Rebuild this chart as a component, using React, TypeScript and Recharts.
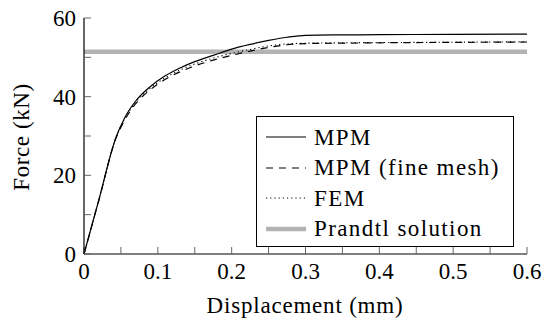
import { Line, LineChart, ReferenceLine, XAxis, YAxis } from 'recharts';

// load–displacement curves (mm, kN)
const displacement = [0, 0.02, 0.043, 0.055, 0.07, 0.09, 0.11, 0.13, 0.15, 0.175, 0.2, 0.225, 0.25, 0.275, 0.3, 0.35, 0.4, 0.5, 0.6];
const mpm = [0, 13.7, 29.5, 34.6, 38.9, 42.6, 45.3, 47.3, 48.9, 50.5, 52.1, 53.3, 54.3, 55.1, 55.6, 55.7, 55.75, 55.85, 55.9];
const mpmFine = [0, 13.6, 29.3, 34.0, 38.2, 41.8, 44.4, 46.3, 47.8, 49.3, 50.5, 51.6, 52.5, 53.2, 53.5, 53.6, 53.7, 53.8, 53.9];
const fem = [0, 13.6, 29.4, 34.3, 38.6, 42.2, 44.8, 46.8, 48.3, 49.8, 51.0, 52.0, 52.9, 53.4, 53.6, 53.7, 53.75, 53.85, 53.95];
const prandtlForce = 51.4;

const xTicks = [0, 0.05, 0.1, 0.15, 0.2, 0.25, 0.3, 0.35, 0.4, 0.45, 0.5, 0.55, 0.6];
const yTicks = [0, 10, 20, 30, 40, 50, 60];
const xLabels = [0, 0.1, 0.2, 0.3, 0.4, 0.5, 0.6];
const yLabels = [0, 20, 40, 60];

const data = displacement.map((d, i) => ({
  d,
  mpm: mpm[i],
  fine: mpmFine[i],
  fem: fem[i],
}));

const FONT = '"Liberation Serif", "Noto Serif", "FreeSerif", "Times New Roman", Times, "DejaVu Serif", serif';
const TICK_LEN = 7; // ticks point into the plot
const tickLineStyle = { stroke: '#666', strokeWidth: 1 };
const axisLineStyle = { stroke: '#000', strokeWidth: 1.2 };
const GRAY = '#b3b3b3';

const legendItems = [
  { name: 'MPM', stroke: '#000', width: 1.2, dash: undefined },
  { name: 'MPM (fine mesh)', stroke: '#000', width: 1.2, dash: '7 6' },
  { name: 'FEM', stroke: '#000', width: 1.1, dash: '1.2 3' },
  { name: 'Prandtl solution', stroke: GRAY, width: 4.5, dash: undefined },
];

const isMajor = (v: number, labels: number[]) => labels.some((l) => Math.abs(l - v) < 1e-9);

const fmt = (v: number) => (v === 0 ? '0' : String(Number(v.toFixed(2))));

// tick coords arrive offset by the (negative) tick size, so shift labels back out
const BottomTick = (props: any) => {
  const { x, y, payload } = props;
  if (!isMajor(payload.value, xLabels)) return <g />;
  return (
    <text x={x} y={y + TICK_LEN + 25} textAnchor="middle" style={{ fontFamily: FONT }} fontSize={23} fill="#000">
      {fmt(payload.value)}
    </text>
  );
};

const LeftTick = (props: any) => {
  const { x, y, payload } = props;
  if (!isMajor(payload.value, yLabels)) return <g />;
  return (
    <text x={x - TICK_LEN - 8} y={y + 8} textAnchor="end" style={{ fontFamily: FONT }} fontSize={23} fill="#000">
      {fmt(payload.value)}
    </text>
  );
};

const LegendBox = () => (
  <div
    style={{
      position: 'absolute',
      left: 256,
      top: 116,
      width: 258,
      height: 131,
      boxSizing: 'border-box',
      border: '1px solid #000',
      background: '#fff',
      paddingTop: 5,
      fontFamily: FONT,
      fontSize: 23,
      letterSpacing: 1.4,
      color: '#000',
    }}
  >
    {legendItems.map((item) => (
      <div key={item.name} style={{ height: 30.5, display: 'flex', alignItems: 'center' }}>
        <svg width={57} height={12} style={{ flex: 'none' }}>
          <line
            x1={9}
            x2={49}
            y1={6}
            y2={6}
            stroke={item.stroke}
            strokeWidth={item.width}
            strokeDasharray={item.dash}
          />
        </svg>
        <span style={{ whiteSpace: 'nowrap', lineHeight: 1 }}>{item.name}</span>
      </div>
    ))}
  </div>
);

const ForceDisplacementChart = () => (
  <LineChart width={544} height={320} data={data} margin={{ top: 18, right: 17, bottom: 0, left: 0 }}>
    <XAxis
      xAxisId="bottom"
      dataKey="d"
      type="number"
      domain={[0, 0.6]}
      ticks={xTicks}
      interval={0}
      height={66}
      tickSize={-TICK_LEN}
      tickMargin={0}
      tickLine={tickLineStyle}
      axisLine={axisLineStyle}
      tick={BottomTick}
      label={() => (
        <text x={305} y={313} textAnchor="middle" style={{ fontFamily: FONT }} fontSize={23} letterSpacing={0.8} fill="#000">
          Displacement (mm)
        </text>
      )}
    />
    <XAxis
      xAxisId="top"
      orientation="top"
      type="number"
      domain={[0, 0.6]}
      ticks={xTicks}
      interval={0}
      height={0}
      tickSize={-TICK_LEN}
      tickMargin={0}
      tickLine={tickLineStyle}
      axisLine={axisLineStyle}
      tick={false}
    />
    <YAxis
      yAxisId="left"
      type="number"
      domain={[0, 60]}
      ticks={yTicks}
      interval={0}
      width={84}
      tickSize={-TICK_LEN}
      tickMargin={0}
      tickLine={tickLineStyle}
      axisLine={axisLineStyle}
      tick={LeftTick}
      label={() => (
        <text
          x={29}
          y={137}
          transform="rotate(-90 29 137)"
          textAnchor="middle"
          style={{ fontFamily: FONT }}
          fontSize={23}
          letterSpacing={0.6}
          fill="#000"
        >
          Force (kN)
        </text>
      )}
    />
    <YAxis
      yAxisId="right"
      orientation="right"
      type="number"
      domain={[0, 60]}
      ticks={yTicks}
      interval={0}
      width={0}
      tickSize={-TICK_LEN}
      tickMargin={0}
      tickLine={tickLineStyle}
      axisLine={axisLineStyle}
      tick={false}
    />
    <ReferenceLine
      xAxisId="bottom"
      yAxisId="left"
      y={prandtlForce}
      stroke={GRAY}
      strokeWidth={4.5}
    />
    <Line
      xAxisId="bottom"
      yAxisId="left"
      type="monotone"
      dataKey="fem"
      name="FEM"
      stroke="#000"
      strokeWidth={1.1}
      strokeDasharray="1.2 3"
      dot={false}
      isAnimationActive={false}
    />
    <Line
      xAxisId="bottom"
      yAxisId="left"
      type="monotone"
      dataKey="fine"
      name="MPM (fine mesh)"
      stroke="#000"
      strokeWidth={1.2}
      strokeDasharray="7 6"
      dot={false}
      isAnimationActive={false}
    />
    <Line
      xAxisId="bottom"
      yAxisId="left"
      type="monotone"
      dataKey="mpm"
      name="MPM"
      stroke="#000"
      strokeWidth={1.2}
      dot={false}
      isAnimationActive={false}
    />
  </LineChart>
);

export default function App() {
  return (
    <div style={{ position: 'absolute', left: 0, top: 0, width: 544, height: 320, background: '#fff' }}>
      <ForceDisplacementChart />
      <LegendBox />
    </div>
  );
}
